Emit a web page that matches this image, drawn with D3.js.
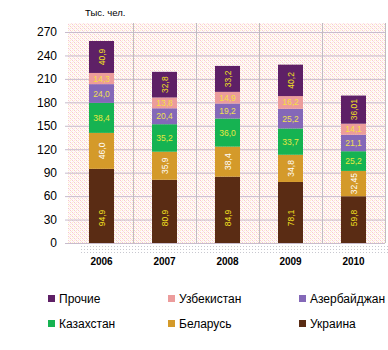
<!DOCTYPE html>
<html>
<head>
<meta charset="utf-8">
<script src="https://cdn.jsdelivr.net/npm/d3@7"></script>
<style>
body{margin:0;background:#fff;}
svg{display:block;font-family:"Liberation Sans",Arial,sans-serif;}
</style>
</head>
<body>
<svg id="chart" width="388" height="350"></svg>
<script>
const years=["2006","2007","2008","2009","2010"];
const seriesNames=["Украина","Беларусь","Казахстан","Азербайджан","Узбекистан","Прочие"];
const ukraine=[94.9,80.9,84.9,78.1,59.8];
const belarus=[46.0,35.9,38.4,34.8,32.45];
const kazakh=[38.4,35.2,36.0,33.7,25.2];
const azerb=[24.0,20.4,19.2,25.2,21.1];
const uzbek=[14.3,13.8,14.9,16.2,14.1];
const other=[40.9,32.8,33.2,40.2,36.01];
const labelText={
  "Украина":["94,9","80,9","84,9","78,1","59,8"],
  "Беларусь":["46,0","35,9","38,4","34,8","32,45"],
  "Казахстан":["38,4","35,2","36,0","33,7","25,2"],
  "Азербайджан":["24,0","20,4","19,2","25,2","21,1"],
  "Узбекистан":["14,3","13,8","14,9","16,2","14,1"],
  "Прочие":["40,9","32,8","33,2","40,2","36,01"]
};
const yTicks=[0,30,60,90,120,150,180,210,240,270];
const legendOrder=["Прочие","Узбекистан","Азербайджан","Казахстан","Беларусь","Украина"];

const colors={"Украина":"#5a2c14","Беларусь":"#d49a2a","Казахстан":"#16b352",
  "Азербайджан":"#8468b8","Узбекистан":"#ec9c9c","Прочие":"#5e2066"};
const rotated={"Украина":true,"Беларусь":true,"Казахстан":false,"Азербайджан":false,"Узбекистан":false,"Прочие":true};
const labelColor={"Украина":"#f2e020","Беларусь":"#ffffff","Казахстан":"#e8e840","Азербайджан":"#f0e050","Узбекистан":"#f5e040","Прочие":"#f2e020"};

const rows=years.map((y,i)=>({year:y,"Украина":ukraine[i],"Беларусь":belarus[i],"Казахстан":kazakh[i],
  "Азербайджан":azerb[i],"Узбекистан":uzbek[i],"Прочие":other[i],idx:i}));
const stacked=d3.stack().keys(seriesNames)(rows);

const svg=d3.select("#chart");
const m={top:23,right:3,bottom:107,left:68};
const W=388,H=350;

const defs=svg.append("defs");
const pat=defs.append("pattern").attr("id","bg").attr("width",4).attr("height",4).attr("patternUnits","userSpaceOnUse");
pat.append("rect").attr("width",4).attr("height",4).attr("fill","#fffafa");
pat.append("rect").attr("x",0).attr("y",0).attr("width",1).attr("height",1).attr("fill","#f8c8d0");
pat.append("rect").attr("x",2).attr("y",0).attr("width",1).attr("height",1).attr("fill","#fcf0c8");
pat.append("rect").attr("x",0).attr("y",2).attr("width",1).attr("height",1).attr("fill","#fcf0c8");
pat.append("rect").attr("x",2).attr("y",2).attr("width",1).attr("height",1).attr("fill","#f8c8d0");
pat.append("rect").attr("x",1).attr("y",1).attr("width",1).attr("height",1).attr("fill","#fbe0e4");
pat.append("rect").attr("x",3).attr("y",3).attr("width",1).attr("height",1).attr("fill","#fbe0e4");
const dots=defs.append("pattern").attr("id","dots").attr("width",3).attr("height",3).attr("patternUnits","userSpaceOnUse");
dots.append("rect").attr("width",1).attr("height",1).attr("fill","#c8c8d0");

const x=d3.scaleBand().domain(years).range([m.left+2,W-m.right]).padding(0);
const y=d3.scaleLinear().domain([0,270]).range([243,32]);

svg.append("rect").attr("x",m.left).attr("y",m.top).attr("width",W-m.right-m.left).attr("height",243-m.top)
  .attr("fill","url(#bg)");
svg.append("rect").attr("x",80).attr("y",246).attr("width",W-80).attr("height",8).attr("fill","url(#dots)");

svg.append("g").selectAll("line").data(yTicks).enter().append("line")
  .attr("x1",m.left-3).attr("x2",W-m.right).attr("y1",d=>y(d)+0.5).attr("y2",d=>y(d)+0.5)
  .attr("stroke","#c8bccc").attr("stroke-width",1);
svg.append("g").selectAll("line").data(years.slice(1).concat(["end"])).enter().append("line")
  .attr("x1",(d,i)=>Math.round(x.range()[0]+x.step()*(i+1))+0.5)
  .attr("x2",(d,i)=>Math.round(x.range()[0]+x.step()*(i+1))+0.5)
  .attr("y1",m.top).attr("y2",243).attr("stroke","#c0bcc0");

const yAxis=svg.append("g").attr("transform",`translate(${m.left-3},0)`)
  .call(d3.axisLeft(y).tickValues(yTicks).tickSize(0).tickPadding(8));
yAxis.select(".domain").remove();
yAxis.selectAll("text").attr("font-size","12px").attr("fill","#000").attr("font-family","Liberation Sans, Arial");

const bw=25;
stacked.forEach(s=>{
  const g=svg.append("g");
  g.selectAll("rect").data(s).enter().append("rect")
    .attr("x",d=>x(d.data.year)+x.bandwidth()/2-bw/2)
    .attr("y",d=>y(d[1]))
    .attr("width",bw)
    .attr("height",d=>y(d[0])-y(d[1]))
    .attr("fill",colors[s.key]);
  g.selectAll("text").data(s).enter().append("text")
    .attr("transform",d=>{
      const cx=x(d.data.year)+x.bandwidth()/2;
      const cy=s.key==="Украина"?y(32):(y(d[0])+y(d[1]))/2;
      return rotated[s.key]?`translate(${cx+3},${cy}) rotate(-90)`:`translate(${cx},${cy+3})`;
    })
    .attr("text-anchor","middle")
    .attr("font-size","8.5px")
    .attr("fill",labelColor[s.key])
    .text(d=>labelText[s.key][d.data.idx]);
});

const xAxis=svg.append("g").attr("transform","translate(0,255)")
  .call(d3.axisBottom(x).tickSize(0).tickPadding(3));
xAxis.select(".domain").remove();
xAxis.selectAll("text").attr("font-size","10px").attr("font-weight","bold").attr("fill","#000").attr("font-family","Liberation Sans, Arial");

svg.append("text").attr("x",85).attr("y",16).attr("font-size","9.5px").attr("fill","#000").text("Тыс. чел.");

const lg=svg.append("g");
legendOrder.forEach((k,i)=>{
  const col=i%3,row=Math.floor(i/3);
  const lx=[48,168,299][col],ly=[302,327][row];
  lg.append("rect").attr("x",lx).attr("y",ly-7).attr("width",7).attr("height",7).attr("fill",colors[k]);
  lg.append("text").attr("x",lx+11).attr("y",ly+1).attr("font-size","12px").attr("fill","#000").text(k);
});
</script>
</body>
</html>
